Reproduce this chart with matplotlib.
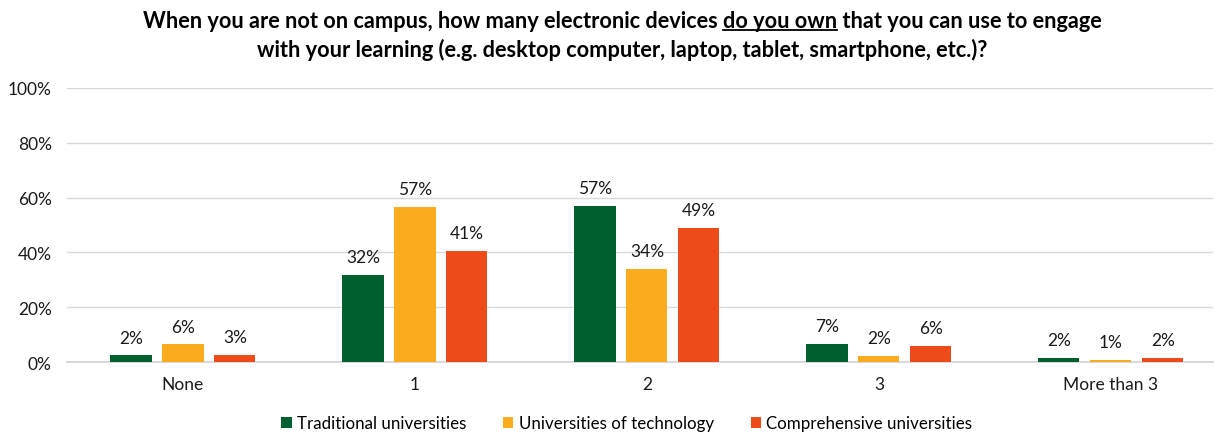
import matplotlib
matplotlib.use("Agg")
import matplotlib.pyplot as plt
from matplotlib import font_manager
import numpy as np

categories = ["None", "1", "2", "3", "More than 3"]
series_names = ["Traditional universities", "Universities of technology", "Comprehensive universities"]
traditional = [2.4, 31.9, 57.0, 6.6, 1.6]
technology = [6.4, 56.6, 33.9, 2.2, 0.6]
comprehensive = [2.6, 40.6, 48.8, 5.9, 1.6]
yticks = [0, 20, 40, 60, 80, 100]
colors = ["#005F2E", "#FAAB1E", "#EE4B1B"]

names = {f.name for f in font_manager.fontManager.ttflist}
body = "Lato" if "Lato" in names else "DejaVu Sans"
title_font = "Liberation Sans Narrow" if "Liberation Sans Narrow" in names else body
plt.rcParams["font.family"] = [body, "DejaVu Sans"]

fig = plt.figure(figsize=(12.17, 4.35), dpi=100)
ax = fig.add_axes([67 / 1217, 0.1655, 1146 / 1217, 0.630])

x = np.arange(len(categories))
step = 0.224
width = 0.177
for i, (vals, name, c) in enumerate(zip([traditional, technology, comprehensive], series_names, colors)):
    pos = x + (i - 1) * step
    bars = ax.bar(pos, vals, width=width, color=c, label=name, zorder=3)
    for b, v in zip(bars, vals):
        ax.text(b.get_x() + b.get_width() / 2, v + 3.6, f"{round(v)}%", ha="center", va="bottom",
                fontsize=12.5, color="#1a1a1a")

ax.set_xlim(-0.5, 4.44)
ax.set_ylim(0, 100)
ax.set_yticks(yticks)
ax.set_yticklabels([f"{t}%" for t in yticks], fontsize=12.5, color="#1a1a1a")
ax.set_xticks(x)
ax.set_xticklabels(categories, fontsize=12.5, color="#1a1a1a")
ax.tick_params(axis="y", length=0, pad=11)
ax.tick_params(axis="x", length=0, pad=10)
ax.grid(axis="y", color="#D9D9D9", linewidth=1.0, zorder=0)
ax.set_axisbelow(True)
for s in ["top", "right", "left"]:
    ax.spines[s].set_visible(False)
ax.spines["bottom"].set_color("#D9D9D9")
ax.spines["bottom"].set_linewidth(1.5)

leg = fig.legend(loc="center", bbox_to_anchor=(0.515, 0.025), ncol=3, frameon=False, fontsize=12.2,
                 handlelength=0.6, handleheight=0.6, handletextpad=0.3, columnspacing=2.2)

# Title
line1 = "When you are not on campus, how many electronic devices do you own that you can use to engage"
line2 = "with your learning (e.g. desktop computer, laptop, tablet, smartphone, etc.)?"
tx = 0.511
tprops = dict(fontsize=15.7, fontweight="bold", family=[title_font, "DejaVu Sans"], color="black")
t1 = fig.text(tx, 1 - 22 / 435, line1, ha="center", va="center", **tprops)
t2 = fig.text(tx, 1 - 50 / 435, line2, ha="center", va="center", **tprops)

fig.canvas.draw()
r = fig.canvas.get_renderer()

def w(s):
    t = fig.text(0, 0, s, **tprops)
    bb = t.get_window_extent(r)
    t.remove()
    return bb.width

bb1 = t1.get_window_extent(r)
upto = line1.split(" that")[0]
end = bb1.x0 + w(upto)
start = end - w("do you own")
ybase = bb1.y0 + 2
fig.add_artist(plt.Line2D([start / fig.bbox.width, end / fig.bbox.width],
                          [ybase / fig.bbox.height, ybase / fig.bbox.height], color="black", lw=1.3))

fig.savefig("out.png", dpi=100)
